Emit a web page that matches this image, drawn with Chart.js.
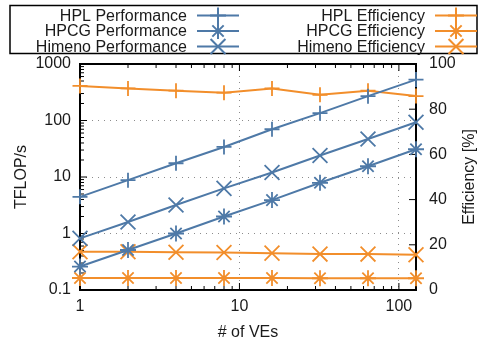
<!DOCTYPE html>
<html>
<head>
<meta charset="utf-8">
<script src="https://cdn.jsdelivr.net/npm/chart.js@4/dist/chart.umd.min.js"></script>
<style>
  html, body { margin: 0; padding: 0; background: #fff; }
  #wrap { width: 480px; height: 339px; }
</style>
</head>
<body>
<div id="wrap"><canvas id="chart"></canvas></div>
<script>
// data
const veCounts   = [1, 2, 4, 8, 16, 32, 64, 128];
const hplPerf    = [4.45, 8.8, 17.5, 34, 70, 135, 270, 530];
const hpcgPerf   = [0.26, 0.51, 1.0, 2.0, 3.9, 7.9, 15.5, 31];
const himenoPerf = [0.82, 1.6, 3.2, 6.3, 12, 24, 47, 93];
const hplEff     = [90.3, 89.2, 88.2, 87.3, 89.2, 86.4, 88.2, 85.8];
const hpcgEff    = [5.3, 5.3, 5.3, 5.3, 5.3, 5.2, 5.2, 5.2];
const himenoEff  = [16.9, 16.9, 16.7, 16.6, 16.3, 15.9, 15.9, 15.6];

// axis ticks
const xTickLabels = [1, 10, 100];
const yTickLabels = [0.1, 1, 10, 100, 1000];
const effTickLabels = [0, 20, 40, 60, 80, 100];

const BLUE = '#4e79a7';
const ORANGE = '#f28e2b';
const FONT = "'Liberation Sans', Arial, Helvetica, sans-serif";

function isPow10(v) {
    const l = Math.log10(v);
    return Math.abs(l - Math.round(l)) < 1e-9;
}

// minor + major positions of a log axis between two decades
function logTicks(loExp, hiExp, max) {
    const out = [];
    for (let e = loExp; e < hiExp; e++) {
        for (let k = 1; k <= 9; k++) {
            const v = Number((k * Math.pow(10, e)).toPrecision(12));
            if (v <= max) out.push(v);
        }
    }
    const top = Math.pow(10, hiExp);
    if (top <= max) out.push(top);
    return out;
}

const pts = (vals) => veCounts.map((x, i) => ({ x: x, y: vals[i] }));

function series(label, vals, color, style, radius, axis) {
    return {
        label: label,
        data: pts(vals),
        yAxisID: axis,
        borderColor: color,
        backgroundColor: color,
        borderWidth: 2,
        pointStyle: style,
        pointRadius: radius,
        pointHoverRadius: radius,
        pointBorderWidth: 1.8,
        pointBorderColor: color,
        clip: false
    };
}

function drawMarker(ctx, style, x, y, r) {
    ctx.beginPath();
    if (style === 'cross' || style === 'star') {
        ctx.moveTo(x - r, y); ctx.lineTo(x + r, y);
        ctx.moveTo(x, y - r); ctx.lineTo(x, y + r);
    }
    if (style === 'crossRot' || style === 'star') {
        const d = r * Math.SQRT1_2;
        ctx.moveTo(x - d, y - d); ctx.lineTo(x + d, y + d);
        ctx.moveTo(x - d, y + d); ctx.lineTo(x + d, y - d);
    }
    ctx.stroke();
}

// inward tick marks and the plot frame, gnuplot style
const framePlugin = {
    id: 'frame',
    beforeDatasetsDraw(chart) {
        const { ctx, chartArea: a, scales } = chart;
        ctx.save();
        ctx.strokeStyle = '#000';
        ctx.lineWidth = 1;
        const tick = (x1, y1, x2, y2) => { ctx.beginPath(); ctx.moveTo(x1, y1); ctx.lineTo(x2, y2); ctx.stroke(); };
        scales.x.ticks.forEach(t => {
            const px = scales.x.getPixelForValue(t.value);
            const len = isPow10(t.value) ? 7 : 4;
            tick(px, a.bottom, px, a.bottom - len);
            tick(px, a.top, px, a.top + len);
        });
        scales.y.ticks.forEach(t => {
            const py = scales.y.getPixelForValue(t.value);
            const len = isPow10(t.value) ? 7 : 4;
            tick(a.left, py, a.left + len, py);
        });
        scales.y1.ticks.forEach(t => {
            const py = scales.y1.getPixelForValue(t.value);
            tick(a.right, py, a.right - 7, py);
        });
        ctx.lineWidth = 2;
        ctx.strokeRect(a.left, a.top, a.right - a.left, a.bottom - a.top);
        ctx.restore();
    }
};

// boxed two-column key with the text left of the sample
const keyPlugin = {
    id: 'key',
    afterDraw(chart) {
        const ctx = chart.ctx;
        ctx.save();
        ctx.strokeStyle = '#000';
        ctx.lineWidth = 1.5;
        ctx.strokeRect(10, 5.5, 467, 48);
        ctx.font = '16px ' + FONT;
        ctx.textAlign = 'right';
        ctx.textBaseline = 'middle';
        const textRight = [187, 425];
        chart.data.datasets.forEach((ds, i) => {
            const col = i < 3 ? 0 : 1;
            const y = 15.5 + (i % 3) * 15.5;
            const tx = textRight[col];
            ctx.fillStyle = '#1a1a1a';
            ctx.fillText(ds.label, tx, y + 1);
            ctx.strokeStyle = ds.borderColor;
            ctx.lineWidth = 2;
            ctx.beginPath(); ctx.moveTo(tx + 10, y); ctx.lineTo(tx + 52, y); ctx.stroke();
            drawMarker(ctx, ds.pointStyle, tx + 31, y, ds.pointStyle === 'crossRot' ? 10.5 : 8);
        });
        // right axis title reads bottom to top
        const a = chart.chartArea;
        ctx.translate(470, (a.top + a.bottom) / 2);
        ctx.rotate(-Math.PI / 2);
        ctx.textAlign = 'center';
        ctx.fillStyle = '#1a1a1a';
        ctx.fillText('Efficiency [%]', 0, 0);
        ctx.restore();
    }
};

const gridColor = (c) => {
    const v = c.tick && c.tick.value;
    return (v !== undefined && isPow10(v) && c.index !== 0) ? '#8c8c8c' : 'rgba(0,0,0,0)';
};

new Chart(document.getElementById('chart'), {
    type: 'line',
    data: {
        datasets: [
            series('HPL Performance', hplPerf, BLUE, 'cross', 7.5, 'y'),
            series('HPCG Performance', hpcgPerf, BLUE, 'star', 8, 'y'),
            series('Himeno Performance', himenoPerf, BLUE, 'crossRot', 10.5, 'y'),
            series('HPL Efficiency', hplEff, ORANGE, 'cross', 7.5, 'y1'),
            series('HPCG Efficiency', hpcgEff, ORANGE, 'star', 8, 'y1'),
            series('Himeno Efficiency', himenoEff, ORANGE, 'crossRot', 10.5, 'y1')
        ]
    },
    options: {
        responsive: true,
        maintainAspectRatio: false,
        animation: false,
        events: [],
        layout: { padding: { top: 64, left: 0, right: 0, bottom: 0 } },
        plugins: { legend: { display: false }, tooltip: { enabled: false } },
        scales: {
            x: {
                type: 'logarithmic',
                min: 1, max: 128,
                afterBuildTicks: (s) => { s.ticks = logTicks(0, 2, 128).map(v => ({ value: v })); },
                afterFit: (s) => { s.height = 49; },
                ticks: {
                    autoSkip: false, maxRotation: 0, padding: 7,
                    color: '#1a1a1a', font: { family: FONT, size: 16 },
                    callback: (v) => xTickLabels.includes(v) ? String(v) : ''
                },
                grid: { drawTicks: false, color: gridColor, lineWidth: 1 },
                border: { display: false, dash: [1, 5] },
                title: {
                    display: true, text: '# of VEs', color: '#1a1a1a',
                    font: { family: FONT, size: 16, lineHeight: 1 }, padding: { top: 0, bottom: -2 }
                }
            },
            y: {
                type: 'logarithmic',
                position: 'left',
                min: 0.1, max: 1000,
                afterBuildTicks: (s) => { s.ticks = logTicks(-1, 3, 1000).map(v => ({ value: v })); },
                afterFit: (s) => { s.width = 80; },
                ticks: {
                    autoSkip: false, padding: 9,
                    color: '#1a1a1a', font: { family: FONT, size: 16 },
                    callback: (v) => {
                        const hit = yTickLabels.find(t => Math.abs(t - v) < 1e-9);
                        return hit !== undefined ? String(hit) : '';
                    }
                },
                grid: { drawTicks: false, color: gridColor, lineWidth: 1 },
                border: { display: false, dash: [1, 5] },
                title: {
                    display: true, text: 'TFLOP/s', color: '#1a1a1a',
                    font: { family: FONT, size: 16, lineHeight: 1 }, padding: { top: 14, bottom: 0 }
                }
            },
            y1: {
                type: 'linear',
                position: 'right',
                min: 0, max: 100,
                afterBuildTicks: (s) => { s.ticks = effTickLabels.map(v => ({ value: v })); },
                afterFit: (s) => { s.width = 64; },
                ticks: {
                    padding: 13, color: '#1a1a1a', font: { family: FONT, size: 16 },
                    callback: (v) => String(v)
                },
                grid: { display: false, drawTicks: false },
                border: { display: false }
            }
        }
    },
    plugins: [framePlugin, keyPlugin]
});
</script>
</body>
</html>
